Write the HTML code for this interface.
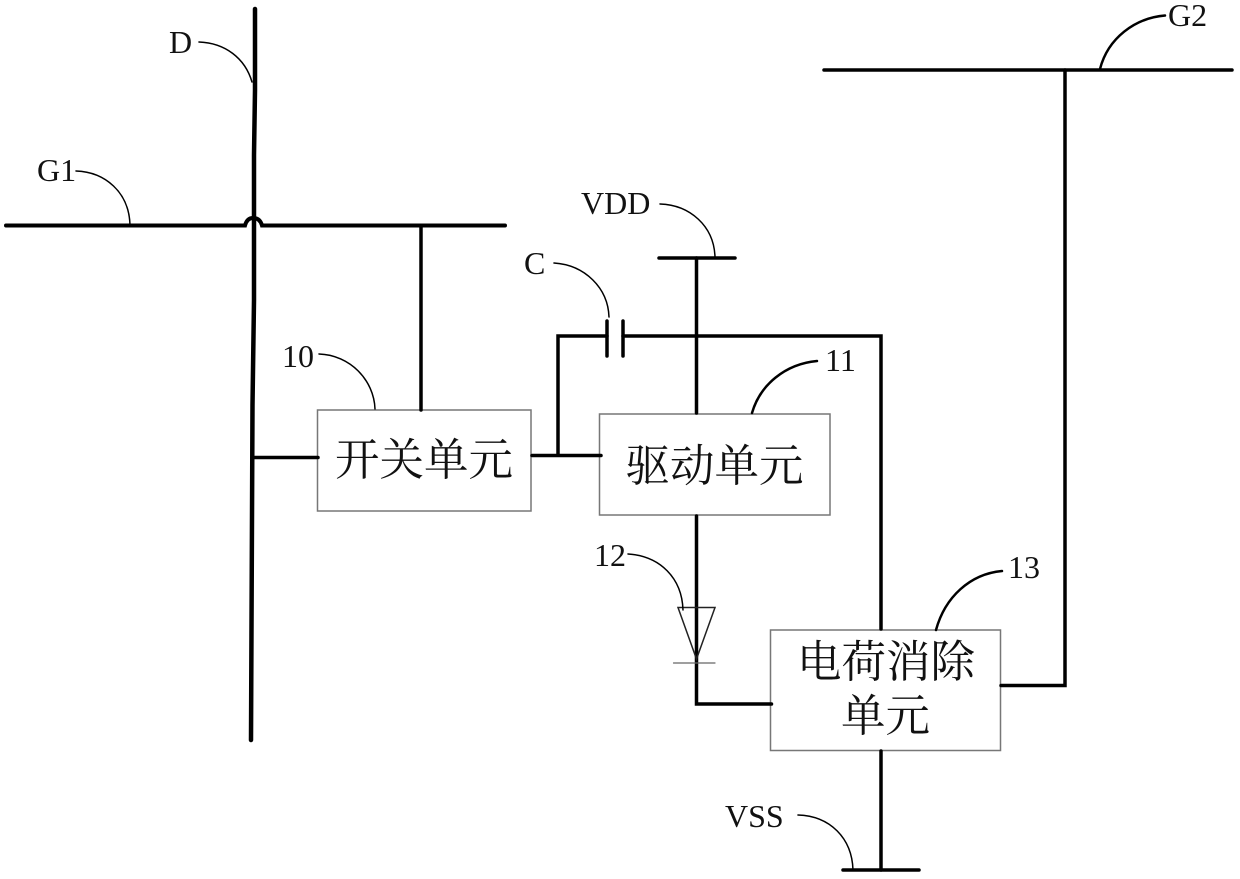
<!DOCTYPE html>
<html><head><meta charset="utf-8">
<style>
html,body{margin:0;padding:0;background:#fff;width:1240px;height:879px;overflow:hidden}
svg{display:block}
.l{font-family:"Liberation Serif",serif;font-size:32px;fill:#111}
.c{font-family:"Noto Serif CJK SC","Liberation Serif",serif;font-size:44.5px;fill:#111}
</style></head><body>
<svg width="1240" height="879" viewBox="0 0 1240 879" xmlns="http://www.w3.org/2000/svg">
<rect width="1240" height="879" fill="#fff"/>
<g fill="#fff" stroke="#777" stroke-width="1.5">
<rect x="317.5" y="410" width="213.5" height="101"/>
<rect x="599.5" y="414" width="230.5" height="101"/>
<rect x="770.5" y="630" width="230" height="120.5"/>
</g>
<g fill="none" stroke="#000" stroke-linecap="round" stroke-linejoin="miter">
<path d="M255 9V90L254 155V300L252.5 405L251 740" stroke-width="4.5"/>
<path d="M6 225.5H245Q247 218 253 218Q260 218 262 225.5H505" stroke-width="4"/>
<path d="M421 226V410" stroke-width="3.5"/>
<path d="M253 457.5H318" stroke-width="3.5"/>
<path d="M532 455.5H601" stroke-width="3.5"/>
<path d="M558 455V336H607" stroke-width="3.5"/>
<path d="M607 321V356M623 321V356" stroke-width="3.5"/>
<path d="M623 336H881V629" stroke-width="3.5"/>
<path d="M659 258H735" stroke-width="3.5"/>
<path d="M696.5 258V413" stroke-width="3.5"/>
<path d="M696.5 516V704H771.5" stroke-width="3.5"/>
<path d="M1001 685.5H1065V70" stroke-width="3.5"/>
<path d="M824 70H1232" stroke-width="3.5"/>
<path d="M881 751V870" stroke-width="3.5"/>
<path d="M843 870H919" stroke-width="3.5"/>
<path d="M678 607.5H715L696.5 659Z" stroke-width="1.5" stroke="#222"/>
<path d="M673.5 663H715" stroke-width="1.2" stroke="#666"/>
<path d="M199 42C225 43 245 58 252 82" stroke-width="1.5"/>
<path d="M76 171C105 172 129 192 130 225" stroke-width="1.5"/>
<path d="M660 204C690 205 714 226 715 257" stroke-width="1.5"/>
<path d="M554 263C585 265 608 288 609 317" stroke-width="1.5"/>
<path d="M319 354C350 355 374 380 375 409" stroke-width="1.5"/>
<path d="M628 554C660 556 682 578 683 610" stroke-width="1.5"/>
<path d="M798 815C830 816 852 838 853 870" stroke-width="1.5"/>
<path d="M817 361C785 364 760 385 752 413" stroke-width="2.5"/>
<path d="M1002 571C970 574 945 597 936 630" stroke-width="2.5"/>
<path d="M1165 15.5C1135 18 1108 38 1100 69" stroke-width="2.5"/>
</g>
<g>
<text class="l" x="169" y="53">D</text>
<text class="l" x="37" y="181">G1</text>
<text class="l" x="581" y="214">VDD</text>
<text class="l" x="524" y="274">C</text>
<text class="l" x="282" y="367">10</text>
<text class="l" x="825" y="371">11</text>
<text class="l" x="594" y="566">12</text>
<text class="l" x="1008" y="578">13</text>
<text class="l" x="725" y="827">VSS</text>
<text class="l" x="1168" y="26">G2</text>
</g>
<text class="c" x="335" y="475">开关单元</text>
<text class="c" x="625.5" y="481">驱动单元</text>
<text class="c" x="797" y="677">电荷消除</text>
<text class="c" x="841" y="731">单元</text>
</svg>
</body></html>
